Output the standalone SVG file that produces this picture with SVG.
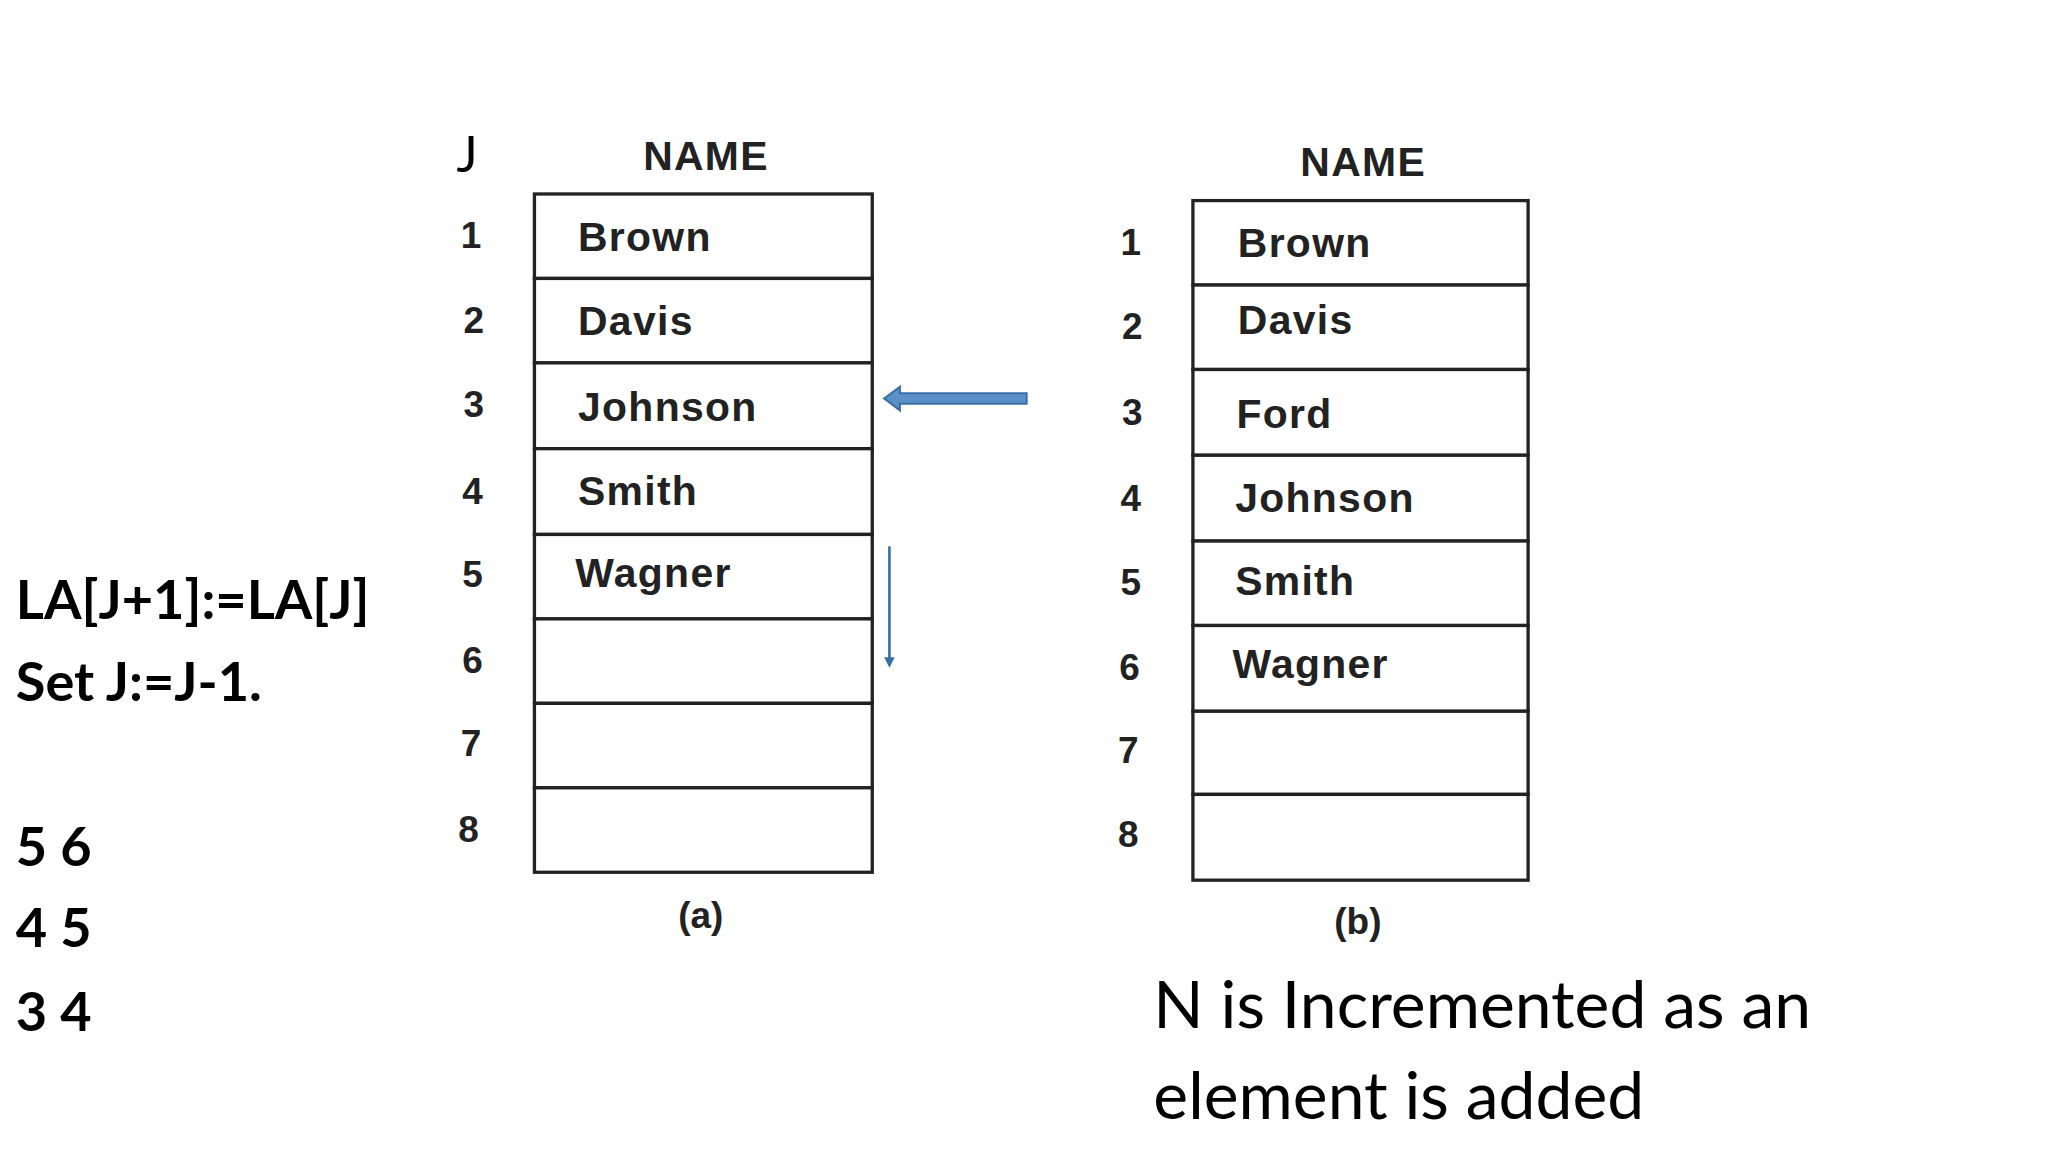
<svg xmlns="http://www.w3.org/2000/svg" width="2048" height="1152" viewBox="0 0 2048 1152">
<style>
.cell{fill:#fff;stroke:#222;stroke-width:2.5}
.t{font-family:"Liberation Sans",Arial,sans-serif;font-size:31px;fill:#222;font-weight:bold;letter-spacing:1px}
.n{font-family:"Liberation Sans",Arial,sans-serif;font-size:28px;fill:#222;font-weight:bold;text-anchor:middle}
.c{font-family:Lato,"Open Sans",sans-serif;font-weight:bold;font-size:41px;fill:#000}
.r{font-family:Lato,"Open Sans",sans-serif;font-size:50px;fill:#000}
</style>
<rect width="2048" height="1152" fill="#fff"/>
<g transform="scale(1.3196)">
<g id="tableA">
<text x="354" y="130" font-family="Lato,sans-serif" font-size="38" fill="#000" text-anchor="middle">J</text>
<text x="535" y="129" class="t" text-anchor="middle">NAME</text>
<rect class="cell" x="405" y="147" width="256" height="64"/>
<rect class="cell" x="405" y="211" width="256" height="64"/>
<rect class="cell" x="405" y="275" width="256" height="65"/>
<rect class="cell" x="405" y="340" width="256" height="65"/>
<rect class="cell" x="405" y="405" width="256" height="64"/>
<rect class="cell" x="405" y="469" width="256" height="64"/>
<rect class="cell" x="405" y="533" width="256" height="64"/>
<rect class="cell" x="405" y="597" width="256" height="64"/>
<text class="t" x="438" y="190">Brown</text>
<text class="t" x="438" y="254">Davis</text>
<text class="t" x="438" y="319">Johnson</text>
<text class="t" x="438" y="383">Smith</text>
<text class="t" x="436" y="445">Wagner</text>
<text class="n" x="357" y="188">1</text>
<text class="n" x="359" y="252">2</text>
<text class="n" x="359" y="316">3</text>
<text class="n" x="358" y="382">4</text>
<text class="n" x="358" y="445">5</text>
<text class="n" x="358" y="510">6</text>
<text class="n" x="357" y="573">7</text>
<text class="n" x="355" y="638">8</text>
<text class="n" x="531" y="703">(a)</text>
</g>
<g id="tableB">
<text x="1033" y="133" class="t" text-anchor="middle">NAME</text>
<rect class="cell" x="904" y="152" width="254" height="64"/>
<rect class="cell" x="904" y="216" width="254" height="64"/>
<rect class="cell" x="904" y="280" width="254" height="65"/>
<rect class="cell" x="904" y="345" width="254" height="65"/>
<rect class="cell" x="904" y="410" width="254" height="64"/>
<rect class="cell" x="904" y="474" width="254" height="65"/>
<rect class="cell" x="904" y="539" width="254" height="63"/>
<rect class="cell" x="904" y="602" width="254" height="65"/>
<text class="t" x="938" y="195">Brown</text>
<text class="t" x="938" y="253">Davis</text>
<text class="t" x="937" y="324">Ford</text>
<text class="t" x="936" y="388">Johnson</text>
<text class="t" x="936" y="451">Smith</text>
<text class="t" x="934" y="514">Wagner</text>
<text class="n" x="857" y="193">1</text>
<text class="n" x="858" y="257">2</text>
<text class="n" x="858" y="322">3</text>
<text class="n" x="857" y="387">4</text>
<text class="n" x="857" y="451">5</text>
<text class="n" x="856" y="515">6</text>
<text class="n" x="855" y="578">7</text>
<text class="n" x="855" y="642">8</text>
<text class="n" x="1029" y="708">(b)</text>
</g>
<g id="connectors">
<polygon points="778,298 682,298 682,293 670,302 682,311 682,306 778,306" fill="#5b8fc7" stroke="#3a6ea5" stroke-width="1.5"/>
<line x1="674" y1="414" x2="674" y2="500" stroke="#3a6ea5" stroke-width="2"/>
<polygon points="670,498 678,498 674,506" fill="#3a6ea5"/>
</g>
<g id="notes">
<text class="c" x="12" y="469">LA[J+1]:=LA[J]</text>
<text class="c" x="12" y="531">Set J:=J-1.</text>
<text class="c" x="12" y="656">5   6</text>
<text class="c" x="12" y="718">4   5</text>
<text class="c" x="12" y="781">3   4</text>
<text class="r" x="874" y="779">N is Incremented as an</text>
<text class="r" x="874" y="848">element is added</text>
</g>
</g>
</svg>
